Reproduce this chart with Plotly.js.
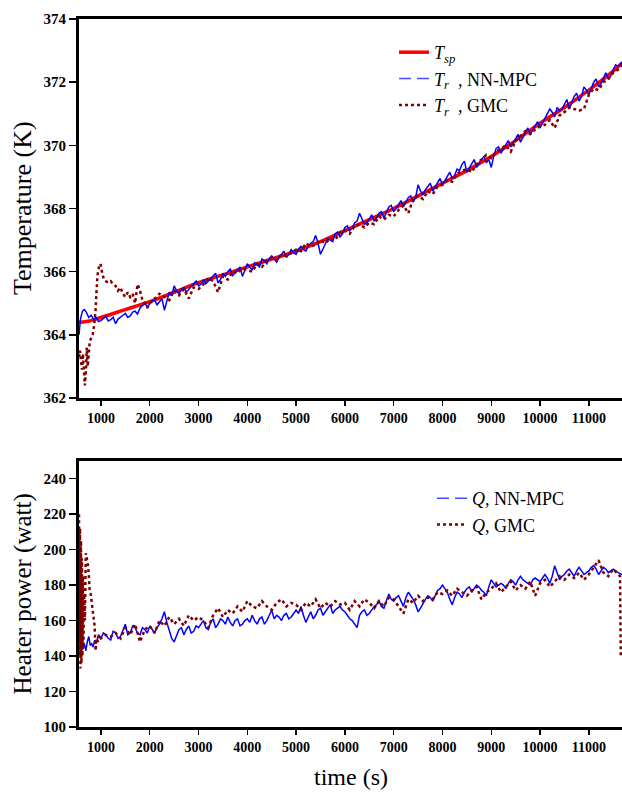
<!DOCTYPE html>
<html><head><meta charset="utf-8">
<script src="https://cdn.plot.ly/plotly-3.0.1.min.js"></script>
<style>html,body{margin:0;padding:0;background:#fff;} #chart{width:622px;height:793px;}</style>
</head><body><div id="chart"></div>
<script>
// ---- shared time grid (s) ----
const timeGrid = [2100,2200,2300,2400,2500,2600,2700,2800,2900,3000,
  3100,3200,3300,3400,3500,3600,3700,3800,3900,4000,
  4100,4200,4300,4400,4500,4600,4700,4800,4900,5000,
  5100,5200,5300,5400,5500,5600,5700,5800,5900,6000,
  6100,6200,6300,6400,6500,6600,6700,6800,6900,7000,
  7100,7200,7300,7400,7500,7600,7700,7800,7900,8000,
  8100,8200,8300,8400,8500,8600,8700,8800,8900,9000,
  9100,9200,9300,9400,9500,9600,9700,9800,9900,10000,
  10100,10200,10300,10400,10500,10600,10700,10800,10900,11000,
  11100,11200,11300,11400,11500,11600];
const timeMid = [2150,2250,2350,2450,2550,2650,2750,2850,2950,
  3050,3150,3250,3350,3450,3550,3650,3750,3850,3950,
  4050,4150,4250,4350,4450,4550,4650,4750,4850,4950,
  5050,5150,5250,5350,5450,5550,5650,5750,5850,5950,
  6050,6150,6250,6350,6450,6550,6650,6750,6850,6950,
  7050,7150,7250,7350,7450,7550,7650,7750,7850,7950,
  8050,8150,8250,8350,8450,8550,8650,8750,8850,8950,
  9050,9150,9250,9350,9450,9550,9650,9750,9850,9950,
  10050,10150,10250,10350,10450,10550,10650,10750,10850,10950,
  11050,11150,11250,11350,11450,11550];

// ---- Set point temperature ----
const spTime = [550,700,1000,1500,2000,2500,3000,3500,4000,4500,5000,5500,6000,6500,7000,7500,8000,8500,9000,9500,10000,10500,11000,11500,11680];
const spTemp = [364.40,364.42,364.55,364.80,365.05,365.35,365.65,365.90,366.15,366.40,366.65,366.95,367.30,367.65,368.00,368.40,368.80,369.20,369.65,370.15,370.70,371.20,371.75,372.35,372.60];

// ---- Tr, NN-MPC ----
const nnTempEarlyTime = [550,580,620,660,700,750,800,850,900,950,1000,1050,1100,1150,1200,1250,1300,1350,1400,1450,1500,1550,1600,1650,1700,1750,1800,1850,1900,1950,2000,2050];
const nnTempEarly = [364.0,364.5,364.75,364.8,364.72,364.55,364.62,364.48,364.55,364.42,364.45,364.52,364.58,364.44,364.48,364.56,364.35,364.50,364.55,364.62,364.68,364.55,364.60,364.72,364.75,364.66,364.85,364.92,365.00,364.88,364.98,365.08];
const nnTempGrid = [365.10,365.05,364.78,365.35,365.55,365.30,365.50,365.45,365.62,365.55,
  365.75,365.70,365.85,365.65,365.95,366.00,365.88,366.05,365.85,366.25,
  366.05,366.20,366.40,366.25,366.50,366.30,366.55,366.45,366.70,366.55,
  366.80,366.65,366.90,367.15,366.55,366.85,367.00,367.20,367.10,367.40,
  367.30,367.55,367.85,367.50,367.70,367.60,367.85,367.70,368.05,367.90,
  368.15,368.05,368.35,368.20,368.75,368.45,368.70,368.55,368.85,368.75,
  369.05,368.95,369.25,369.40,369.15,369.45,369.30,369.55,369.45,369.30,
  369.90,369.75,370.05,369.95,370.25,370.10,370.45,370.35,370.65,370.55,
  370.85,371.15,370.90,371.10,371.30,371.15,371.55,371.40,371.85,371.60,
  372.00,371.85,372.15,372.10,372.40,372.50];
const nnTempMid = [364.95,365.15,365.05,365.25,365.40,365.45,365.35,365.55,365.70,
  365.60,365.62,365.80,365.95,365.75,365.85,366.08,365.98,366.15,366.05,
  366.15,366.28,366.15,366.35,366.42,366.40,366.45,366.65,366.55,366.60,
  366.72,366.70,366.82,366.95,366.90,366.70,367.05,366.95,367.25,367.20,
  367.45,367.38,367.60,367.70,367.55,367.80,367.70,367.90,367.85,368.10,
  368.00,368.25,368.20,368.40,368.35,368.55,368.60,368.80,368.70,368.95,
  368.90,369.15,369.05,369.20,369.50,369.30,369.55,369.45,369.65,369.55,
  369.65,369.95,369.90,370.15,370.10,370.35,370.25,370.55,370.50,370.75,
  370.70,370.95,371.05,371.20,371.15,371.45,371.35,371.65,371.55,371.75,
  371.80,372.10,371.95,372.30,372.20,372.55];
const nnTempTailTime = [11680];
const nnTempTail = [372.65];

// ---- Tr, GMC ----
const gmcTempEarlyTime = [550,570,590,610,630,650,670,690,710,730,750,770,800,830,860,890,910,930,960,990,1020,1060,1100,1150,1200,1250,1300,1350,1400,1450,1500,1550,1600,1650,1700,1750,1800,1850,1900,1950,2000];
const gmcTempEarly = [363.3,363.5,363.2,362.9,363.4,362.6,362.4,362.8,363.6,363.0,363.5,363.8,363.9,364.0,364.3,364.8,365.4,365.9,366.15,366.25,366.0,365.75,365.7,365.65,365.7,365.6,365.55,365.4,365.5,365.3,365.2,365.35,365.2,365.3,365.0,365.6,365.4,365.1,365.0,364.85,365.0];
const gmcTempGrid = [365.15,365.30,365.20,365.10,365.40,365.25,365.45,365.15,365.50,365.45,
  365.60,365.80,365.70,365.35,365.85,365.75,366.00,365.95,366.10,366.05,
  366.00,366.25,366.15,366.35,366.45,366.35,366.55,366.50,366.60,366.70,
  366.65,366.90,366.80,366.85,367.00,366.90,367.05,367.00,367.25,367.30,
  367.20,367.45,367.50,367.40,367.55,367.50,367.75,367.65,367.80,367.75,
  367.95,368.10,367.85,368.30,368.40,368.30,368.55,368.45,368.70,368.75,
  368.90,368.85,369.10,369.20,369.25,369.15,369.40,369.55,369.70,369.60,
  369.80,369.90,370.00,369.80,370.15,370.30,370.45,370.35,370.50,370.60,
  370.65,370.80,370.55,370.95,371.05,371.20,371.15,371.10,371.15,371.60,
  371.80,371.75,372.00,372.10,372.30,372.40];
const gmcTempTailTime = [11680];
const gmcTempTail = [372.55];

// ---- Q, NN-MPC ----
const nnQEarlyTime = [550,570,600,630,660,690,720,750,780,810,840,870,900,950,1000,1050,1100,1150,1200,1250,1300,1350,1400,1450,1500,1550,1600,1650,1700,1750,1800,1850,1900,1950,2000,2050];
const nnQEarly = [162,152,146,144,147,143,148,151,146,147,145,149,147,152,150,153,152,150,149,154,153,150,151,155,158,152,153,157,156,153,152,156,155,153,157,155];
const nnQGrid = [153,158,165,154,148,155,152,157,154,156,
  160,155,161,158,160,162,157,161,158,161,
  163,158,162,160,166,163,160,164,162,166,
  168,159,165,163,167,165,169,166,168,165,
  161,158,163,166,164,168,171,167,175,171,
  174,168,176,172,165,170,174,171,177,180,
  176,169,176,173,178,176,180,177,174,183,
  179,181,178,183,180,185,182,180,184,182,
  186,181,191,183,186,189,185,190,186,188,
  191,186,190,187,189,187];
const nnQMid = [156,161,159,150,152,156,155,153,157,
  158,156,159,156,161,158,159,160,157,160,
  159,160,161,158,163,161,162,163,161,164,
  164,163,162,161,166,163,167,164,167,166,
  163,160,156,165,163,166,169,168,171,172,
  173,171,173,174,169,167,172,173,174,178,
  178,172,173,175,176,179,178,179,176,179,
  181,180,180,181,182,183,183,181,183,183,
  184,184,185,187,185,188,187,188,188,187,
  190,189,188,189,188,188];
const nnQTailTime = [11680];
const nnQTail = [186];

// ---- Q, GMC ----
const gmcQEarlyTime = [550,560,570,580,590,600,610,620,630,640,655,670,690,710,730,750,770,790,810,830,850,870,890,910,940,970,1000,1100,1200,1300,1400,1500,1600,1700,1800,1900,2000];
const gmcQEarly = [220,140,212,133,205,136,195,140,185,145,175,160,198,195,192,186,176,175,170,168,160,157,143,150,148,152,150,152,151,153,150,156,152,158,148,155,157];
const gmcQGrid = [153,160,157,162,158,161,157,163,160,162,
  160,156,163,167,162,166,164,168,165,171,
  168,167,171,168,166,170,172,168,170,169,
  166,170,168,172,167,170,168,171,169,170,
  166,171,168,172,170,167,171,168,173,172,
  168,164,172,170,174,171,173,172,176,175,
  177,174,178,176,174,177,179,172,176,178,
  181,176,179,182,177,180,178,182,174,181,
  183,179,182,185,183,186,184,187,183,186,
  190,194,187,185,189,186];
const gmcQTailTime = [11640,11655];
const gmcQTail = [185,139];

// ---- axis ticks ----
const xTicks = [1000,2000,3000,4000,5000,6000,7000,8000,9000,10000,11000];
const xTickLabels = ['1000','2000','3000','4000','5000','6000','7000','8000','9000','10000','11000'];
const tempTicks = [362,364,366,368,370,372,374];
const tempTickLabels = ['362','364','366','368','370','372','374'];
const powerTicks = [100,120,140,160,180,200,220,240];
const powerTickLabels = ['100','120','140','160','180','200','220','240'];

const FONT = 'Times New Roman, Liberation Serif, serif';
const bold = arr => arr.map(s => '<b>' + s + '</b>');
const join = (a,b,c) => a.concat(b).concat(c);
function mergeSorted(xs1, ys1, xs2, ys2) {
  const pts = xs1.map((x,i)=>[x,ys1[i]]).concat(xs2.map((x,i)=>[x,ys2[i]]));
  pts.sort((a,b)=>a[0]-b[0]);
  return {x: pts.map(p=>p[0]), y: pts.map(p=>p[1])};
}
const nnT = mergeSorted(join(nnTempEarlyTime, timeGrid, nnTempTailTime), join(nnTempEarly, nnTempGrid, nnTempTail), timeMid, nnTempMid);
const nnQ = mergeSorted(join(nnQEarlyTime, timeGrid, nnQTailTime), join(nnQEarly, nnQGrid, nnQTail), timeMid, nnQMid);

const cRed = '#ff0000', cBlue = '#0000ff', cGmc = '#800000';

const traces = [
  {x: spTime, y: spTemp, xaxis:'x', yaxis:'y', mode:'lines', line:{color:cRed, width:3.5, shape:'spline'}, showlegend:false, hoverinfo:'skip'},
  {x: nnT.x, y: nnT.y, xaxis:'x', yaxis:'y', mode:'lines', line:{color:cBlue, width:1.5}, showlegend:false},
  {x: join(gmcTempEarlyTime, timeGrid, gmcTempTailTime), y: join(gmcTempEarly, gmcTempGrid, gmcTempTail), xaxis:'x', yaxis:'y', mode:'lines', line:{color:cGmc, width:2.5, dash:'dot'}, showlegend:false},
  {x: nnQ.x, y: nnQ.y, xaxis:'x2', yaxis:'y2', mode:'lines', line:{color:cBlue, width:1.5}, showlegend:false},
  {x: join(gmcQEarlyTime, timeGrid, gmcQTailTime), y: join(gmcQEarly, gmcQGrid, gmcQTail), xaxis:'x2', yaxis:'y2', mode:'lines', line:{color:cGmc, width:2.5, dash:'dot'}, showlegend:false},
  // legend entries
  {x:[null], y:[null], xaxis:'x', yaxis:'y', mode:'lines', name:'<i>T<sub>sp</sub></i>', line:{color:cRed, width:3.5}, legend:'legend'},
  {x:[null], y:[null], xaxis:'x', yaxis:'y', mode:'lines', name:'<i>T<sub>r</sub></i>  , NN-MPC', line:{color:'#4a4aff', width:1.5, dash:'12px,6px'}, legend:'legend'},
  {x:[null], y:[null], xaxis:'x', yaxis:'y', mode:'lines', name:'<i>T<sub>r</sub></i>  , GMC', line:{color:cGmc, width:2.5, dash:'dot'}, legend:'legend'},
  {x:[null], y:[null], xaxis:'x2', yaxis:'y2', mode:'lines', name:'<i>Q</i>, NN-MPC', line:{color:'#4a4aff', width:1.5, dash:'12px,6px'}, legend:'legend2'},
  {x:[null], y:[null], xaxis:'x2', yaxis:'y2', mode:'lines', name:'<i>Q</i>, GMC', line:{color:cGmc, width:2.5, dash:'dot'}, legend:'legend2'}
];

const W = 622, H = 793;
const axisCommon = {
  showline:true, mirror:true, linewidth:3, linecolor:'#000',
  ticks:'outside', tickcolor:'#000', tickwidth:1.5, tickmode:'array',
  showgrid:false, zeroline:false, automargin:false, fixedrange:true
};
const xFont = {family:FONT, size:14, color:'#000'};
const yFont = {family:FONT, size:15, color:'#000'};
const plotL = 79/W;

const layout = {
  width:W, height:H, margin:{l:0, r:0, t:0, b:0},
  paper_bgcolor:'#fff', plot_bgcolor:'#fff',
  font:{family:FONT, color:'#000'},
  showlegend:true,
  xaxis: Object.assign({}, axisCommon, {domain:[plotL,1], anchor:'y', range:[550,11680], tickvals:xTicks, ticktext:bold(xTickLabels), ticklen:5, tickfont:xFont}),
  yaxis: Object.assign({}, axisCommon, {domain:[1-398/H, 1-19/H], anchor:'x', range:[362,374], tickvals:tempTicks, ticktext:bold(tempTickLabels), ticklen:7, tickfont:yFont}),
  xaxis2: Object.assign({}, axisCommon, {domain:[plotL,1], anchor:'y2', range:[550,11680], tickvals:xTicks, ticktext:bold(xTickLabels), ticklen:5, tickfont:xFont}),
  yaxis2: Object.assign({}, axisCommon, {domain:[1-727/H, 1-461/H], anchor:'x2', range:[100,250], tickvals:powerTicks, ticktext:bold(powerTickLabels), ticklen:7, tickfont:yFont}),
  legend: {x:394/W, y:1-34/H, xanchor:'left', yanchor:'top', bgcolor:'rgba(0,0,0,0)', borderwidth:0, font:{family:FONT, size:18, color:'#000'}, tracegroupgap:0},
  legend2: {x:432/W, y:1-480/H, xanchor:'left', yanchor:'top', bgcolor:'rgba(0,0,0,0)', borderwidth:0, font:{family:FONT, size:18, color:'#000'}, tracegroupgap:0},
  annotations: [
    {text:'Temperature (K)', xref:'paper', yref:'paper', x:22.5/W, y:1-208.5/H, textangle:-90, showarrow:false, xanchor:'center', yanchor:'middle', font:{family:FONT, size:26, color:'#000'}},
    {text:'Heater power (watt)', xref:'paper', yref:'paper', x:22.5/W, y:1-594/H, textangle:-90, showarrow:false, xanchor:'center', yanchor:'middle', font:{family:FONT, size:25, color:'#000'}},
    {text:'time (s)', xref:'paper', yref:'paper', x:350.5/W, y:1-777/H, showarrow:false, xanchor:'center', yanchor:'middle', font:{family:FONT, size:24, color:'#000'}}
  ]
};

Plotly.newPlot('chart', traces, layout, {staticPlot:true, displayModeBar:false});
</script></body></html>
